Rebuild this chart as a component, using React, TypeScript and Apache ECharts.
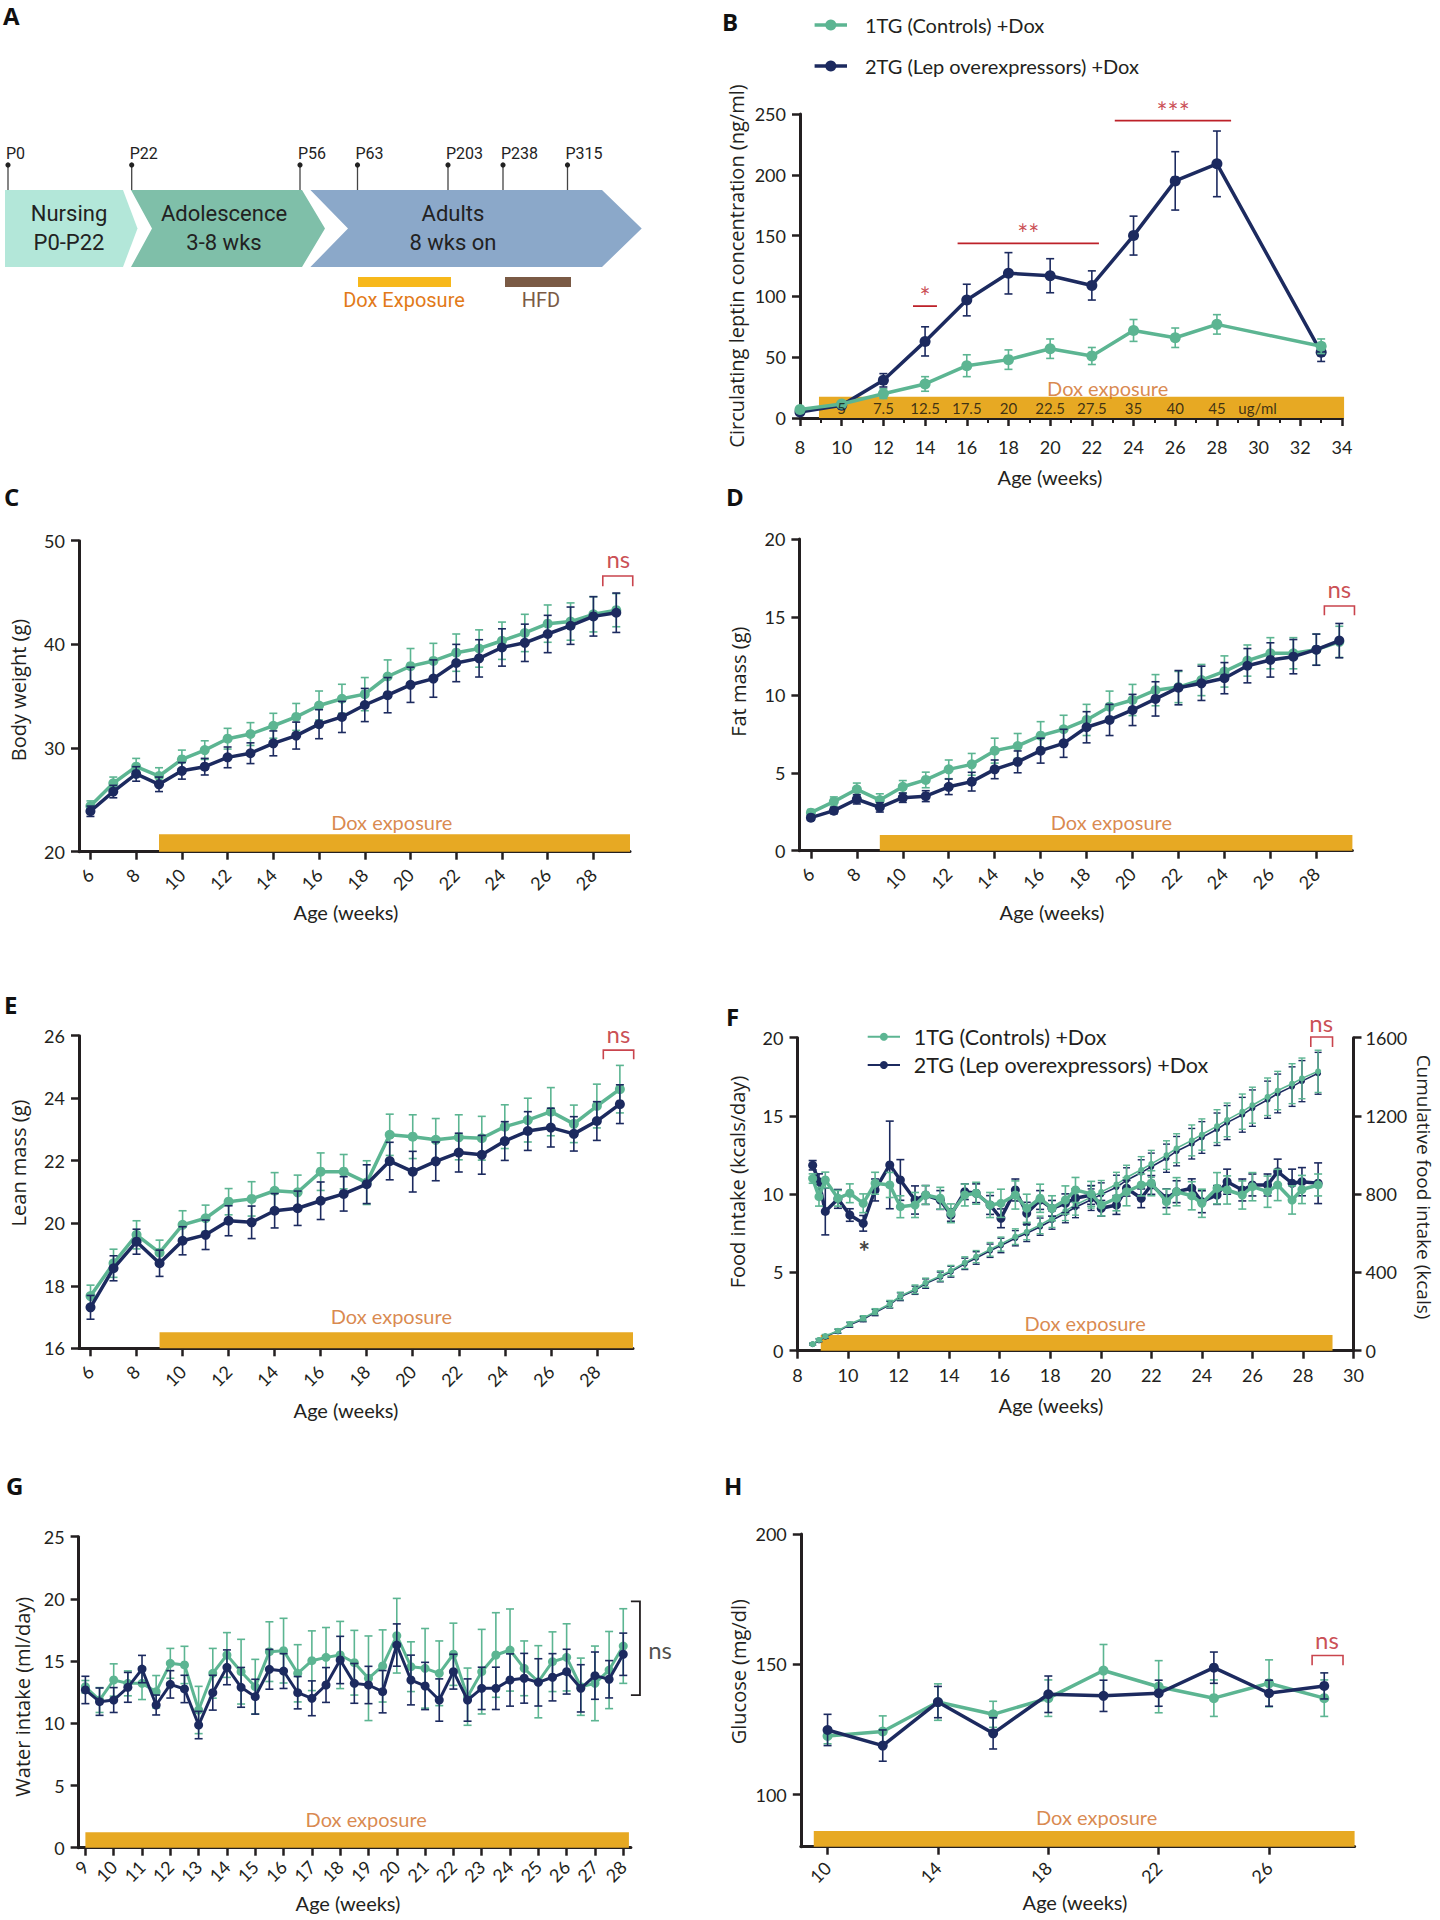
import React, { useEffect, useRef } from "react";
import * as echarts from "echarts";

// ---------------- DATA ----------------
// B: circulating leptin
const leptinWeeks = [8, 10, 12, 14, 16, 18, 20, 22, 24, 26, 28, 33];
const leptinCtrl = [7, 11.5, 20, 28, 43, 48, 57, 51, 72, 66, 77, 59];
const leptinCtrlErr = [2, 2, 4, 6, 9, 8, 8, 7, 9, 8, 8, 6];
const leptinLep = [5, 10.5, 31, 63, 97, 119, 117, 109, 150, 195, 209, 54];
const leptinLepErr = [2, 2, 5.5, 12, 13, 17, 14, 12, 16, 24, 27, 7.5];
const doseWeeks = [10, 12, 14, 16, 18, 20, 22, 24, 26, 28, 29.95];
const doseLabels = ["5", "7.5", "12.5", "17.5", "20", "22.5", "27.5", "35", "40", "45", "ug/ml"];

// C, D, E: weekly body composition
const weeksCDE = [6, 7, 8, 9, 10, 11, 12, 13, 14, 15, 16, 17, 18, 19, 20, 21, 22, 23, 24, 25, 26, 27, 28, 29];
const bwCtrl = [24.4, 26.6, 28.2, 27.3, 28.9, 29.8, 30.9, 31.35, 32.15, 33.0, 34.1, 34.75, 35.2, 36.9, 37.9, 38.4, 39.2, 39.6, 40.35, 41.1, 42.0, 42.2, 42.9, 43.3];
const bwCtrlErr = [0.5, 0.6, 0.8, 0.8, 0.9, 0.9, 1.0, 1.1, 1.2, 1.3, 1.4, 1.4, 1.6, 1.6, 1.7, 1.7, 1.8, 1.8, 1.8, 1.8, 1.8, 1.8, 1.7, 1.6];
const bwLep = [23.9, 25.8, 27.5, 26.5, 27.8, 28.2, 29.1, 29.5, 30.45, 31.2, 32.3, 33.0, 34.15, 35.1, 36.1, 36.7, 38.2, 38.65, 39.7, 40.15, 41.0, 41.8, 42.7, 43.05];
const bwLepErr = [0.5, 0.6, 0.7, 0.7, 0.8, 0.8, 1.0, 1.0, 1.2, 1.3, 1.4, 1.5, 1.6, 1.7, 1.7, 1.8, 1.8, 1.8, 1.8, 1.8, 1.8, 1.8, 1.9, 1.9];

const fatCtrl = [2.44, 3.15, 3.94, 3.25, 4.1, 4.54, 5.22, 5.54, 6.42, 6.72, 7.38, 7.79, 8.39, 9.24, 9.67, 10.3, 10.5, 10.95, 11.5, 12.2, 12.67, 12.67, 12.9, 13.4];
const fatCtrlErr = [0.2, 0.3, 0.4, 0.4, 0.4, 0.5, 0.6, 0.7, 0.8, 0.8, 0.9, 0.9, 1.0, 1.0, 1.0, 1.0, 1.0, 1.0, 1.0, 1.0, 1.0, 1.0, 1.0, 1.0];
const fatLep = [2.12, 2.57, 3.3, 2.78, 3.4, 3.5, 4.1, 4.43, 5.22, 5.7, 6.42, 6.89, 7.92, 8.39, 9.03, 9.74, 10.46, 10.74, 11.07, 11.87, 12.24, 12.45, 12.9, 13.48];
const fatLepErr = [0.15, 0.2, 0.3, 0.3, 0.3, 0.35, 0.5, 0.6, 0.6, 0.7, 0.8, 0.9, 1.0, 1.0, 1.0, 1.1, 1.1, 1.1, 1.0, 1.1, 1.1, 1.1, 1.0, 1.1];

const leanCtrl = [17.67, 18.72, 19.63, 19.06, 19.95, 20.16, 20.69, 20.78, 21.04, 20.99, 21.65, 21.65, 21.3, 22.83, 22.77, 22.67, 22.75, 22.72, 23.09, 23.3, 23.57, 23.18, 23.75, 24.29];
const leanCtrlErr = [0.35, 0.45, 0.45, 0.4, 0.45, 0.42, 0.42, 0.55, 0.58, 0.55, 0.6, 0.55, 0.7, 0.66, 0.7, 0.68, 0.72, 0.7, 0.7, 0.7, 0.77, 0.6, 0.7, 0.76];
const leanLep = [17.31, 18.56, 19.41, 18.72, 19.44, 19.63, 20.08, 20.03, 20.4, 20.48, 20.72, 20.94, 21.25, 21.99, 21.65, 21.98, 22.26, 22.19, 22.63, 22.95, 23.06, 22.86, 23.27, 23.81];
const leanLepErr = [0.38, 0.4, 0.4, 0.42, 0.45, 0.47, 0.48, 0.52, 0.55, 0.55, 0.6, 0.55, 0.62, 0.6, 0.65, 0.62, 0.62, 0.62, 0.62, 0.62, 0.62, 0.55, 0.62, 0.62];

// F: food intake (twice weekly)
const foodWeeks = [8.6, 8.85, 9.1, 9.6, 10.07, 10.6, 11.07, 11.65, 12.07, 12.65, 13.07, 13.65, 14.07, 14.62, 15.07, 15.62, 16.05, 16.62, 17.07, 17.6, 18.07, 18.6, 19.0, 19.62, 20.02, 20.62, 21.02, 21.6, 22.0, 22.6, 23.0, 23.6, 24.0, 24.6, 25.0, 25.6, 26.0, 26.6, 27.0, 27.57, 27.96, 28.6];
const foodCtrl = [11.0, 9.84, 10.91, 9.74, 10.06, 9.42, 10.7, 10.59, 9.2, 9.31, 9.95, 9.74, 8.78, 9.95, 10.06, 9.31, 9.42, 9.95, 9.1, 9.74, 9.1, 9.63, 10.27, 10.02, 9.31, 9.74, 10.16, 10.59, 10.7, 9.52, 10.16, 9.9, 9.42, 10.38, 10.27, 9.95, 10.48, 10.16, 10.59, 9.63, 10.3, 10.59];
const foodCtrlErr = [0.3, 0.6, 0.5, 0.5, 0.6, 0.6, 0.7, 0.8, 0.7, 0.8, 0.6, 0.7, 0.6, 0.7, 0.7, 0.8, 0.9, 0.9, 0.9, 0.9, 0.8, 0.9, 0.8, 0.8, 0.7, 0.8, 0.9, 0.7, 0.8, 0.8, 0.9, 0.9, 0.9, 1.0, 0.9, 0.9, 0.9, 1.0, 1.0, 0.9, 0.9, 0.7];
const foodLep = [11.85, 10.8, 8.9, 9.7, 8.67, 8.14, 10.27, 11.87, 10.91, 9.63, 9.95, 9.63, 8.67, 10.16, 10.06, 9.31, 8.46, 10.27, 8.78, 9.63, 9.1, 9.42, 9.74, 9.95, 9.1, 9.31, 10.38, 9.74, 10.59, 9.74, 10.16, 10.38, 9.52, 9.95, 10.8, 10.27, 10.59, 10.59, 11.44, 10.7, 10.8, 10.7];
const foodLepErr = [0.3, 0.5, 1.5, 0.6, 0.4, 0.5, 0.7, 2.8, 1.3, 0.9, 0.6, 0.6, 0.4, 0.5, 0.6, 0.6, 0.6, 0.7, 0.7, 0.6, 0.5, 0.6, 0.6, 0.6, 0.5, 0.6, 0.5, 0.6, 0.6, 0.6, 0.7, 0.6, 0.7, 0.6, 0.8, 0.7, 0.7, 0.7, 0.8, 0.9, 0.9, 1.3];
const cumCtrl = [34, 55, 75, 102, 136, 166, 200, 239, 280, 314, 348, 382, 409, 450, 481, 518, 545, 583, 608, 643, 677, 715, 745, 785, 812, 850, 885, 925, 955, 1000, 1035, 1075, 1105, 1148, 1180, 1222, 1255, 1298, 1330, 1365, 1392, 1428];
const cumCtrlErr = [6, 7, 8, 10, 11, 13, 15, 18, 19, 22, 23, 26, 27, 30, 31, 35, 36, 40, 41, 45, 47, 50, 52, 56, 58, 62, 63, 67, 69, 73, 74, 79, 80, 84, 86, 90, 92, 96, 98, 102, 104, 108];
const cumLep = [33, 53, 72, 99, 132, 161, 195, 235, 276, 309, 343, 377, 404, 444, 474, 511, 538, 575, 600, 634, 667, 703, 733, 772, 799, 836, 871, 910, 940, 984, 1020, 1058, 1090, 1132, 1166, 1206, 1240, 1283, 1315, 1350, 1378, 1418];
const cumLepErr = [5, 7, 9, 10, 12, 13, 16, 17, 20, 21, 24, 25, 28, 29, 32, 34, 37, 39, 42, 44, 46, 49, 53, 55, 59, 61, 64, 66, 70, 72, 75, 78, 81, 83, 87, 89, 93, 95, 99, 101, 105, 107];

// G: water intake
const waterWeeks = [9, 9.5, 10, 10.5, 11, 11.5, 12, 12.5, 13, 13.5, 14, 14.5, 15, 15.5, 16, 16.5, 17, 17.5, 18, 18.5, 19, 19.5, 20, 20.5, 21, 21.5, 22, 22.5, 23, 23.5, 24, 24.5, 25, 25.5, 26, 26.5, 27, 27.5, 28];
const waterCtrl = [12.94, 11.87, 13.48, 13.21, 13.21, 12.54, 14.82, 14.69, 11.07, 14.02, 15.49, 14.15, 12.94, 15.76, 15.84, 14.02, 15.03, 15.3, 15.49, 14.87, 13.62, 14.61, 17.04, 14.55, 14.42, 14.02, 15.55, 12.14, 14.15, 15.49, 15.89, 14.42, 13.34, 14.95, 15.3, 12.94, 13.21, 14.28, 16.21];
const waterCtrlErr = [0.5, 1.0, 1.3, 1.0, 1.3, 1.3, 1.2, 1.5, 1.9, 2.0, 1.8, 2.6, 2.2, 2.4, 2.6, 2.3, 2.4, 2.4, 2.7, 2.6, 3.4, 2.9, 3.0, 2.0, 3.2, 2.6, 2.5, 2.3, 3.4, 3.4, 3.3, 2.2, 2.9, 2.4, 2.7, 2.3, 3.0, 3.1, 3.0];
const waterLep = [12.68, 11.74, 11.87, 12.89, 14.36, 11.47, 13.13, 12.76, 9.86, 12.46, 14.5, 12.89, 12.14, 14.34, 14.2, 12.46, 12.01, 13.08, 15.09, 13.21, 13.08, 12.54, 16.29, 13.48, 13.0, 11.87, 14.15, 11.87, 12.81, 12.81, 13.48, 13.62, 13.29, 13.7, 14.15, 12.81, 13.83, 13.54, 15.55];
const waterLepErr = [1.1, 1.1, 1.0, 1.2, 1.1, 0.8, 1.1, 1.1, 1.1, 1.4, 1.4, 1.6, 1.4, 1.6, 1.4, 1.3, 1.4, 1.4, 1.9, 1.6, 1.5, 1.7, 1.7, 2.0, 1.9, 1.7, 1.4, 1.7, 1.7, 1.7, 2.1, 2.0, 1.9, 1.9, 1.8, 1.9, 1.9, 1.5, 1.7];

// H: glucose
const glucWeeks = [10, 12, 14, 16, 18, 20, 22, 24, 26, 28];
const glucCtrl = [122.5, 124.2, 135.5, 130.8, 137.0, 147.6, 141.4, 137.0, 142.7, 137.0];
const glucCtrlErr = [3, 6, 7, 5, 7, 10, 10, 7, 9, 7];
const glucLep = [124.8, 118.8, 135.5, 123.5, 138.5, 137.9, 138.9, 148.7, 138.9, 141.7];
const glucLepErr = [6, 6, 6, 6, 7, 6, 5, 6, 5, 5];

// tick labels
const evenTicksCDE = [6, 8, 10, 12, 14, 16, 18, 20, 22, 24, 26, 28];
const waterTicks = [9, 10, 11, 12, 13, 14, 15, 16, 17, 18, 19, 20, 21, 22, 23, 24, 25, 26, 27, 28];
const glucTicks = [10, 14, 18, 22, 26];
const glucYTicks = [100, 150, 200];

// ---------------- STYLE ----------------
const GREEN = "#5cb592";
const NAVY = "#1c2a5f";
const DOX = "#e7a923";
const DOX_TEXT = "#cf6b1e";
const RED = "#bd2129";
const RED_BR = "#c9444d";
const INK = "#231f20";
const FONT = "Lato, 'Open Sans', sans-serif";
const TFONT = "'Open Sans', sans-serif";

function errSeries(xi: number, yi: number, xs: number[], ys: number[], es: number[], color: string, z: number, lw = 1.6, cap = 4) {
  return {
    type: "custom",
    xAxisIndex: xi,
    yAxisIndex: yi,
    z,
    silent: true,
    clip: false,
    encode: { x: 0, y: 1 },
    data: xs.map((x, i) => [x, ys[i], es[i]]),
    renderItem: (_p: any, api: any) => {
      const x = api.value(0), y = api.value(1), e = api.value(2);
      const t = api.coord([x, y + e]);
      const b = api.coord([x, y - e]);
      const st = { stroke: color, lineWidth: lw };
      return {
        type: "group",
        children: [
          { type: "line", shape: { x1: t[0], y1: t[1], x2: b[0], y2: b[1] }, style: st },
          { type: "line", shape: { x1: t[0] - cap, y1: t[1], x2: t[0] + cap, y2: t[1] }, style: st },
          { type: "line", shape: { x1: b[0] - cap, y1: b[1], x2: b[0] + cap, y2: b[1] }, style: st },
        ],
      };
    },
  };
}

function lineSeries(xi: number, yi: number, xs: number[], ys: number[], color: string, z: number, width = 3.5, size = 10) {
  return {
    type: "line",
    xAxisIndex: xi,
    yAxisIndex: yi,
    z,
    silent: true,
    clip: false,
    symbol: "circle",
    symbolSize: size,
    lineStyle: { color, width },
    itemStyle: { color, borderWidth: 0 },
    data: xs.map((x, i) => [x, ys[i]]),
  };
}

function doxRect(xi: number, yi: number, box: number[]) {
  return {
    type: "custom",
    xAxisIndex: xi,
    yAxisIndex: yi,
    z: 1,
    silent: true,
    clip: false,
    encode: { x: [0, 1], y: [2, 3] },
    data: [box],
    renderItem: (_p: any, api: any) => {
      const a = api.coord([api.value(0), api.value(3)]);
      const b = api.coord([api.value(1), api.value(2)]);
      return { type: "rect", shape: { x: a[0], y: a[1], width: b[0] - a[0], height: b[1] - a[1] }, style: { fill: DOX } };
    },
  };
}

// polyline in data space, measured from an in-range anchor so it is never clamped to the axis extent
function polySeries(xi: number, yi: number, anchor: number[], pts: number[][], color: string, width: number) {
  return {
    type: "custom",
    xAxisIndex: xi,
    yAxisIndex: yi,
    z: 8,
    silent: true,
    clip: false,
    encode: { x: 0, y: 1 },
    data: [anchor],
    renderItem: (_p: any, api: any) => {
      const ax = api.value(0), ay = api.value(1);
      const a = api.coord([ax, ay]);
      const points = pts.map(([x, y]) => {
        const s = api.size([Math.abs(x - ax), Math.abs(y - ay)]);
        return [a[0] + Math.sign(x - ax) * s[0], a[1] - Math.sign(y - ay) * s[1]];
      });
      return { type: "polyline", shape: { points }, style: { stroke: color, lineWidth: width, fill: null } };
    },
  };
}

function textSeries(xi: number, yi: number, items: [number, number, string][], color: string, fontSize: number, extra: any = {}) {
  return {
    type: "scatter",
    xAxisIndex: xi,
    yAxisIndex: yi,
    z: 8,
    silent: true,
    clip: false,
    symbolSize: 1,
    itemStyle: { color: "rgba(0,0,0,0)" },
    label: { show: true, position: "inside", formatter: "{b}", color, fontSize, fontFamily: FONT, ...extra },
    data: items.map(([x, y, t]) => ({ name: t, value: [x, y] })),
  };
}

const axisLine = { show: true, onZero: false, lineStyle: { color: INK, width: 3 } };
const axisTick = { show: true, inside: false, length: 8, lineStyle: { color: INK, width: 2.5 } };
const lbl = (extra: any = {}) => ({ color: INK, fontSize: 18, fontFamily: FONT, showMinLabel: true, showMaxLabel: true, formatter: (v: number) => String(v), ...extra });

function xAx(gridIndex: number, min: number, max: number, extra: any = {}, ticks?: number[], rotate = 0, margin = 18) {
  return {
    type: "value",
    gridIndex,
    min,
    max,
    axisLine,
    axisTick: ticks ? { ...axisTick, customValues: ticks } : axisTick,
    splitLine: { show: false },
    axisLabel: ticks ? lbl({ customValues: ticks, rotate, margin }) : lbl({ rotate, margin }),
    ...extra,
  };
}

function yAx(gridIndex: number, min: number, max: number, interval: number | null, ticks?: number[], extra: any = {}) {
  const o: any = {
    type: "value",
    gridIndex,
    min,
    max,
    axisLine,
    axisTick: ticks ? { ...axisTick, customValues: ticks } : axisTick,
    splitLine: { show: false },
    axisLabel: ticks ? lbl({ customValues: ticks, margin: 14 }) : lbl({ margin: 14 }),
    ...extra,
  };
  if (interval) o.interval = interval;
  return o;
}

function txt(x: number, y: number, text: string, fontSize: number, fill: string, extra: any = {}, styleExtra: any = {}) {
  return {
    type: "text",
    x,
    y,
    silent: true,
    ...extra,
    style: { text, fontSize, fill, fontFamily: FONT, align: "center", verticalAlign: "middle", ...styleExtra },
  };
}

function buildOption() {
  const grid = [
    { left: 800, top: 114, width: 542, height: 304 }, // B
    { left: 79, top: 540.7, width: 551, height: 311 }, // C
    { left: 799.4, top: 539, width: 553, height: 311.7 }, // D
    { left: 79, top: 1035.7, width: 554, height: 312.6 }, // E
    { left: 797.5, top: 1037.7, width: 556, height: 313 }, // F
    { left: 78.6, top: 1536.7, width: 552.3, height: 311 }, // G
    { left: 800.8, top: 1534, width: 553.8, height: 312.7 }, // H
  ];

  const xAxis = [
    xAx(0, 8, 34, { interval: 2, minorTick: { show: true, splitNumber: 2, length: 5, lineStyle: { color: INK, width: 2 } } }, undefined, 0, 20),
    xAx(1, 5.5, 29.6, {}, evenTicksCDE, 45, 20),
    xAx(2, 5.5, 29.57, {}, evenTicksCDE, 45, 20),
    xAx(3, 5.5, 29.57, {}, evenTicksCDE, 45, 20),
    xAx(4, 8, 30, { interval: 2 }, undefined, 0, 15),
    xAx(5, 8.76, 28.27, {}, waterTicks, 45, 16),
    xAx(6, 9.03, 29.1, {}, glucTicks, 45, 18),
  ];

  const yAxis = [
    yAx(0, 0, 250, 50),
    yAx(1, 20, 50, 10),
    yAx(2, 0, 20, 5),
    yAx(3, 16, 26, 2),
    yAx(4, 0, 20, 5),
    yAx(5, 0, 25, 5),
    yAx(6, 80, 200, null, glucYTicks),
    yAx(4, 0, 1600, 400, undefined, { position: "right", axisLabel: lbl({ margin: 12 }) }),
  ];

  const series: any[] = [];
  const doxLbl = (xi: number, yi: number, x: number, y: number) => textSeries(xi, yi, [[x, y, "Dox exposure"]], DOX_TEXT, 20);
  const nsBracket = (xi: number, yi: number, anchor: number[], pts: number[][], nsPos: [number, number]) => {
    series.push(polySeries(xi, yi, anchor, pts, RED_BR, 1.6));
    series.push(textSeries(xi, yi, [[nsPos[0], nsPos[1], "ns"]], RED, 24));
  };

  // ---- B ----
  series.push(doxRect(0, 0, [8.91, 34.1, 0, 17.5]));
  series.push(textSeries(0, 0, doseWeeks.map((w, i) => [w, 8.2, doseLabels[i]] as [number, number, string]), "#111", 15));
  series.push(doxLbl(0, 0, 22.76, 24.7));
  series.push(errSeries(0, 0, leptinWeeks, leptinLep, leptinLepErr, NAVY, 2));
  series.push(lineSeries(0, 0, leptinWeeks, leptinLep, NAVY, 3, 3.5, 11));
  series.push(errSeries(0, 0, leptinWeeks, leptinCtrl, leptinCtrlErr, GREEN, 4));
  series.push(lineSeries(0, 0, leptinWeeks, leptinCtrl, GREEN, 5, 3.5, 11));
  series.push(polySeries(0, 0, [14, 92], [[13.42, 92], [14.57, 92]], RED, 1.8));
  series.push(polySeries(0, 0, [18, 143.6], [[15.56, 143.6], [22.34, 143.6]], RED, 1.8));
  series.push(polySeries(0, 0, [26, 244.5], [[23.1, 244.5], [28.68, 244.5]], RED, 1.8));
  series.push(textSeries(0, 0, [[14.0, 99.5, "*"], [18.95, 151, "**"], [25.9, 252, "***"]], RED, 26));

  // ---- C ----
  series.push(doxRect(1, 1, [9, 29.6, 20, 21.68]));
  series.push(doxLbl(1, 1, 19.18, 22.9));
  series.push(errSeries(1, 1, weeksCDE, bwCtrl, bwCtrlErr, GREEN, 2));
  series.push(lineSeries(1, 1, weeksCDE, bwCtrl, GREEN, 3));
  series.push(errSeries(1, 1, weeksCDE, bwLep, bwLepErr, NAVY, 4));
  series.push(lineSeries(1, 1, weeksCDE, bwLep, NAVY, 5));
  nsBracket(1, 1, [29, 46], [[28.41, 45.6], [28.41, 46.6], [29.72, 46.6], [29.72, 45.6]], [29.09, 48.3]);

  // ---- D ----
  series.push(doxRect(2, 2, [9, 29.57, 0, 1.0]));
  series.push(doxLbl(2, 2, 19.08, 1.86));
  series.push(errSeries(2, 2, weeksCDE, fatCtrl, fatCtrlErr, GREEN, 2));
  series.push(lineSeries(2, 2, weeksCDE, fatCtrl, GREEN, 3));
  series.push(errSeries(2, 2, weeksCDE, fatLep, fatLepErr, NAVY, 4));
  series.push(lineSeries(2, 2, weeksCDE, fatLep, NAVY, 5));
  nsBracket(2, 2, [29, 15], [[28.35, 15.1], [28.35, 15.7], [29.66, 15.7], [29.66, 15.1]], [29.0, 16.8]);

  // ---- E ----
  series.push(doxRect(3, 3, [9, 29.57, 16, 16.51]));
  series.push(doxLbl(3, 3, 19.07, 17.03));
  series.push(errSeries(3, 3, weeksCDE, leanCtrl, leanCtrlErr, GREEN, 2));
  series.push(lineSeries(3, 3, weeksCDE, leanCtrl, GREEN, 3));
  series.push(errSeries(3, 3, weeksCDE, leanLep, leanLepErr, NAVY, 4));
  series.push(lineSeries(3, 3, weeksCDE, leanLep, NAVY, 5));
  nsBracket(3, 3, [29, 25], [[28.28, 25.25], [28.28, 25.54], [29.6, 25.54], [29.6, 25.25]], [28.94, 26.08]);

  // ---- F ----
  series.push(doxRect(4, 4, [8.92, 29.17, 0, 1.0]));
  series.push(doxLbl(4, 4, 19.38, 1.79));
  series.push(errSeries(4, 7, foodWeeks, cumLep, cumLepErr, NAVY, 2, 1.4, 3.5));
  series.push(lineSeries(4, 7, foodWeeks, cumLep, NAVY, 2, 1.6, 6));
  series.push(errSeries(4, 7, foodWeeks, cumCtrl, cumCtrlErr, GREEN, 3, 1.4, 3.5));
  series.push(lineSeries(4, 7, foodWeeks, cumCtrl, GREEN, 3, 1.6, 6));
  series.push(errSeries(4, 4, foodWeeks, foodLep, foodLepErr, NAVY, 4));
  series.push(lineSeries(4, 4, foodWeeks, foodLep, NAVY, 5, 3.5, 9));
  series.push(errSeries(4, 4, foodWeeks, foodCtrl, foodCtrlErr, GREEN, 6));
  series.push(lineSeries(4, 4, foodWeeks, foodCtrl, GREEN, 7, 3.5, 9));
  series.push(textSeries(4, 4, [[10.64, 6.4, "*"]], "#111", 28, { fontWeight: "bold" }));
  nsBracket(4, 4, [28.6, 19.5], [[28.31, 19.4], [28.31, 20.04], [29.17, 20.04], [29.17, 19.4]], [28.72, 20.95]);

  // ---- G ----
  series.push(doxRect(5, 5, [9.0, 28.2, 0, 1.24]));
  series.push(doxLbl(5, 5, 18.92, 2.28));
  series.push(errSeries(5, 5, waterWeeks, waterCtrl, waterCtrlErr, GREEN, 2));
  series.push(lineSeries(5, 5, waterWeeks, waterCtrl, GREEN, 3, 3, 9));
  series.push(errSeries(5, 5, waterWeeks, waterLep, waterLepErr, NAVY, 4));
  series.push(lineSeries(5, 5, waterWeeks, waterLep, NAVY, 5, 3, 9));
  series.push(polySeries(5, 5, [28, 16], [[28.27, 19.8], [28.59, 19.8], [28.59, 12.27], [28.27, 12.27]], INK, 1.8));
  series.push(textSeries(5, 5, [[29.3, 15.9, "ns"]], INK, 24));

  // ---- H ----
  series.push(doxRect(6, 6, [9.5, 29.1, 80, 86]));
  series.push(doxLbl(6, 6, 19.75, 91.5));
  series.push(errSeries(6, 6, glucWeeks, glucCtrl, glucCtrlErr, GREEN, 2));
  series.push(lineSeries(6, 6, glucWeeks, glucCtrl, GREEN, 3));
  series.push(errSeries(6, 6, glucWeeks, glucLep, glucLepErr, NAVY, 4));
  series.push(lineSeries(6, 6, glucWeeks, glucLep, NAVY, 5));
  nsBracket(6, 6, [28, 150], [[27.56, 149.6], [27.56, 153.4], [28.68, 153.4], [28.68, 149.6]], [28.1, 159.6]);

  // ---------------- GRAPHICS ----------------
  const g: any[] = [];
  const letter = (x: number, y: number, t: string) =>
    g.push({ type: "text", x, y, silent: true, style: { text: t, fontSize: 24, fontWeight: "bold", fontFamily: TFONT, fill: "#111", align: "left", verticalAlign: "top" } });
  letter(3, 3, "A");
  letter(722, 9, "B");
  letter(4, 484, "C");
  letter(726, 484, "D");
  letter(4, 992, "E");
  letter(726, 1004, "F");
  letter(6, 1473, "G");
  letter(724, 1473, "H");

  // Panel A timeline
  const RF = "Roboto, sans-serif";
  g.push({ type: "polygon", silent: true, shape: { points: [[5, 190], [123, 190], [137.5, 228.5], [123, 267], [5, 267]] }, style: { fill: "#b3e7d9" } });
  g.push({ type: "polygon", silent: true, shape: { points: [[131, 190], [302, 190], [325, 228.5], [302, 267], [131, 267], [152, 228.5]] }, style: { fill: "#7fbfa9" } });
  g.push({ type: "polygon", silent: true, shape: { points: [[310.4, 190], [602, 190], [641.7, 228.5], [602, 267], [310.4, 267], [348, 228.5]] }, style: { fill: "#8ba8c9" } });
  const stageTxt = (x: number, a: string, b: string) => {
    g.push(txt(x, 213, a, 22, "#222", {}, { fontFamily: RF }));
    g.push(txt(x, 242, b, 22, "#222", {}, { fontFamily: RF }));
  };
  stageTxt(69, "Nursing", "P0-P22");
  stageTxt(224, "Adolescence", "3-8 wks");
  stageTxt(453, "Adults", "8 wks on");
  const pins: [number, string][] = [[8, "P0"], [131.7, "P22"], [300, "P56"], [357.5, "P63"], [448, "P203"], [503, "P238"], [567.5, "P315"]];
  pins.forEach(([x, t]) => {
    g.push({ type: "line", silent: true, shape: { x1: x, y1: 165, x2: x, y2: 190 }, style: { stroke: "#444", lineWidth: 1.3 } });
    g.push({ type: "circle", silent: true, shape: { cx: x, cy: 165, r: 2.6 }, style: { fill: "#222" } });
    g.push(txt(x - 2, 153, t, 16, "#222", {}, { fontFamily: RF, align: "left" }));
  });
  g.push({ type: "rect", silent: true, shape: { x: 358, y: 277, width: 93, height: 10 }, style: { fill: "#f7b81b" } });
  g.push(txt(404, 300, "Dox Exposure", 20, "#e27a18", {}, { fontFamily: RF }));
  g.push({ type: "rect", silent: true, shape: { x: 505, y: 277, width: 66, height: 10 }, style: { fill: "#7a5a45" } });
  g.push(txt(541, 300, "HFD", 20, "#7a5a45", {}, { fontFamily: RF }));

  // Legends
  const legend = (x0: number, x1: number, y: number, color: string, lw: number, r: number, tx: number, text: string, fs: number) => {
    g.push({ type: "line", silent: true, shape: { x1: x0, y1: y, x2: x1, y2: y }, style: { stroke: color, lineWidth: lw } });
    g.push({ type: "circle", silent: true, shape: { cx: (x0 + x1) / 2, cy: y, r }, style: { fill: color } });
    g.push(txt(tx, y, text, fs, INK, {}, { align: "left" }));
  };
  legend(814.6, 847, 25, GREEN, 3.5, 5.5, 865, "1TG (Controls) +Dox", 20);
  legend(814.6, 847, 66, NAVY, 3.5, 5.5, 865, "2TG (Lep overexpressors) +Dox", 20);
  legend(867.7, 900, 1036.7, GREEN, 2, 4, 913.8, "1TG (Controls) +Dox", 21.5);
  legend(867.7, 900, 1065, NAVY, 2, 4, 913.8, "2TG (Lep overexpressors) +Dox", 21.5);

  // Axis titles
  const xt = (x: number, y: number, t: string) => g.push(txt(x, y, t, 20, INK));
  xt(1050, 477, "Age (weeks)");
  xt(346, 911.7, "Age (weeks)");
  xt(1052, 911.7, "Age (weeks)");
  xt(346, 1410, "Age (weeks)");
  xt(1051, 1405, "Age (weeks)");
  xt(348, 1903, "Age (weeks)");
  xt(1075, 1901.7, "Age (weeks)");
  const yt = (x: number, y: number, t: string, rot = Math.PI / 2, fs = 20) =>
    g.push(txt(x, y, t, fs, INK, { rotation: rot }, { fontFamily: TFONT }));
  yt(736, 266, "Circulating leptin concentration (ng/ml)");
  yt(18.7, 690, "Body weight (g)");
  yt(738.5, 681.7, "Fat mass (g)");
  yt(18.7, 1163, "Lean mass (g)");
  yt(737, 1182, "Food intake (kcals/day)");
  yt(1424, 1187, "Cumulative food intake (kcals)", -Math.PI / 2, 19);
  yt(22.5, 1696.7, "Water intake (ml/day)");
  yt(738.5, 1671.7, "Glucose (mg/dl)");

  return {
    animation: false,
    backgroundColor: "#ffffff",
    textStyle: { fontFamily: FONT },
    grid,
    xAxis,
    yAxis,
    series,
    graphic: g,
  };
}

export default function App() {
  const ref = useRef<HTMLDivElement>(null);
  useEffect(() => {
    document.body.style.margin = "0";
    const chart = echarts.init(ref.current!, null, { renderer: "svg", width: 1440, height: 1920 });
    chart.setOption(buildOption() as any);
    return () => chart.dispose();
  }, []);
  return <div ref={ref} style={{ width: 1440, height: 1920, background: "#fff" }} />;
}
